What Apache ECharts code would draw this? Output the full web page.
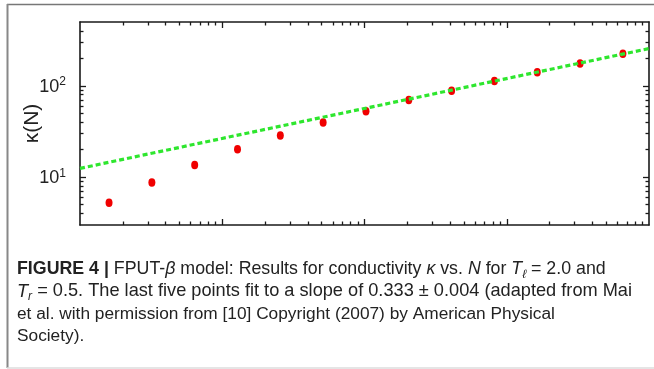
<!DOCTYPE html>
<html>
<head>
<meta charset="utf-8">
<script src="https://cdn.jsdelivr.net/npm/echarts@6/dist/echarts.min.js"></script>
<style>
html,body{margin:0;padding:0;background:#fff;}
#c{width:654px;height:369px;}
</style>
</head>
<body>
<div id="c"></div>
<script>
// ---- data ----
const sizesN = [16, 32, 64, 128, 256, 512, 1024, 2048, 4096, 8192, 16384, 32768, 65536];
const kappa = [5.27, 8.75, 13.6, 20.2, 28.7, 39.6, 52.8, 70.0, 88.3, 113, 141, 176, 225];
const fitN = [10, 100000];
const fitKappa = [12.5, 256];
const xMajorTicks = [100, 1000, 10000];
const xMinorTicks = [20,30,40,50,60,70,80,90,200,300,400,500,600,700,800,900,2000,3000,4000,5000,6000,7000,8000,9000,20000,30000,40000,50000,60000,70000,80000,90000];
const yMajorTicks = [10, 100];
const yMinorTicks = [4,5,6,7,8,9,20,30,40,50,60,70,80,90,200,300,400];
const yTickLabels = ['10^1', '10^2'];
const yAxisName = 'κ(N)';
const captionLines = [
  '{fb|FIGURE 4 |} FPUT-{i|β} model: Results for conductivity {i|κ} vs. {i|N} for {i|T}{sub|ℓ} = 2.0 and',
  '{i|T}{sub|r} = 0.5. The last five points fit to a slope of 0.333 ± 0.004 (adapted from Mai',
  'et al. with permission from {g|[10]} Copyright (2007) by American Physical',
  'Society).'
];

const chart = echarts.init(document.getElementById('c'), null, {renderer: 'canvas'});

const axisCol = '#1a1a1a';
function xAx(pos, ticks, len, line) {
  return {
    type: 'log', position: pos, min: 10, max: 100000, logBase: 10,
    axisLine: {show: line, lineStyle: {color: axisCol, width: 1.6}},
    axisTick: {show: true, inside: true, length: len, customValues: ticks, lineStyle: {color: axisCol, width: 1.3}},
    axisLabel: {show: false}, splitLine: {show: false}, minorTick: {show: false}
  };
}
function yAx(pos, ticks, len, line) {
  return {
    type: 'log', position: pos, min: 3, max: 500, logBase: 10,
    axisLine: {show: line, lineStyle: {color: axisCol, width: 1.6}},
    axisTick: {show: true, inside: true, length: len, customValues: ticks, lineStyle: {color: axisCol, width: 1.3}},
    axisLabel: {show: false}, splitLine: {show: false}, minorTick: {show: false}
  };
}
const yMain = yAx('left', yMajorTicks, 6, true);
yMain.axisLabel = {
  show: true, customValues: yMajorTicks, margin: 14,
  formatter: function (v) {
    const e = Math.round(Math.log10(v));
    const lab = yTickLabels[yMajorTicks.indexOf(Math.pow(10, e))] || ('10^' + e);
    const parts = lab.split('^');
    return '{b|' + parts[0] + '}{s|' + parts[1] + '}';
  },
  rich: {
    b: {fontFamily: 'Liberation Sans', fontSize: 18, color: '#222', lineHeight: 18, verticalAlign: 'bottom', padding: [10, 0, 0, 0]},
    s: {fontFamily: 'Liberation Sans', fontSize: 12, color: '#222', lineHeight: 20, verticalAlign: 'top'}
  }
};
yMain.name = yAxisName;
yMain.nameLocation = 'middle';
yMain.nameGap = 37;
yMain.nameMoveOverlap = false;
yMain.nameTextStyle = {fontFamily: 'Liberation Sans', fontSize: 21, color: '#222'};

const lineSizes = [17.8, 18.2, 17.3, 17.3];
function captionText(i) {
  const fs = lineSizes[i];
  return {
    type: 'text', left: 17, top: 258 + i * 22.3,
    style: {
      text: captionLines[i],
      fontFamily: 'Liberation Sans', fontSize: fs, lineHeight: 22.3, fill: '#222',
      rich: {
        fb: {fontFamily: 'Liberation Sans', fontSize: fs, fontWeight: 'bold', lineHeight: 22.3, color: '#222'},
        i: {fontFamily: 'Liberation Sans', fontSize: fs, fontStyle: 'italic', lineHeight: 22.3, color: '#222'},
        sub: {fontFamily: 'Liberation Sans', fontSize: 12, fontStyle: 'italic', lineHeight: 14, verticalAlign: 'bottom', color: '#222'},
        g: {fontFamily: 'Liberation Sans', fontSize: fs, lineHeight: 22.3, color: '#999'}
      }
    }
  };
}

const option = {
  backgroundColor: '#fff',
  animation: false,
  grid: {left: 80, right: 5, top: 22, bottom: 144, containLabel: false, outerBoundsMode: 'none'},
  xAxis: [
    xAx('bottom', xMajorTicks, 6, true),
    xAx('bottom', xMinorTicks, 3.5, false),
    xAx('top', xMajorTicks, 6, true),
    xAx('top', xMinorTicks, 3.5, false)
  ],
  yAxis: [
    yMain,
    yAx('left', yMinorTicks, 3.5, false),
    yAx('right', yMajorTicks, 6, true),
    yAx('right', yMinorTicks, 3.5, false)
  ],
  series: [
    {
      type: 'scatter', xAxisIndex: 0, yAxisIndex: 0,
      data: sizesN.map((n, i) => [n, kappa[i]]),
      symbol: 'circle', symbolSize: [7, 8.5],
      itemStyle: {color: '#f00000', opacity: 1}, z: 2
    },
    {
      type: 'line', xAxisIndex: 0, yAxisIndex: 0,
      data: fitN.map((n, i) => [n, fitKappa[i]]),
      symbol: 'none',
      lineStyle: {color: '#2ee62e', width: 3.2, type: [5, 3]}, z: 3
    }
  ],
  graphic: [
    {type: 'line', shape: {x1: 7, y1: 4.5, x2: 654, y2: 4.5}, style: {stroke: '#777', lineWidth: 1.5}},
    {type: 'line', shape: {x1: 7.5, y1: 4, x2: 7.5, y2: 368}, style: {stroke: '#888', lineWidth: 2}},
    {type: 'line', shape: {x1: 7, y1: 368, x2: 654, y2: 368}, style: {stroke: '#ddd', lineWidth: 1.5}}
  ].concat(captionLines.map((_, i) => captionText(i)))
};
chart.setOption(option);
</script>
</body>
</html>
